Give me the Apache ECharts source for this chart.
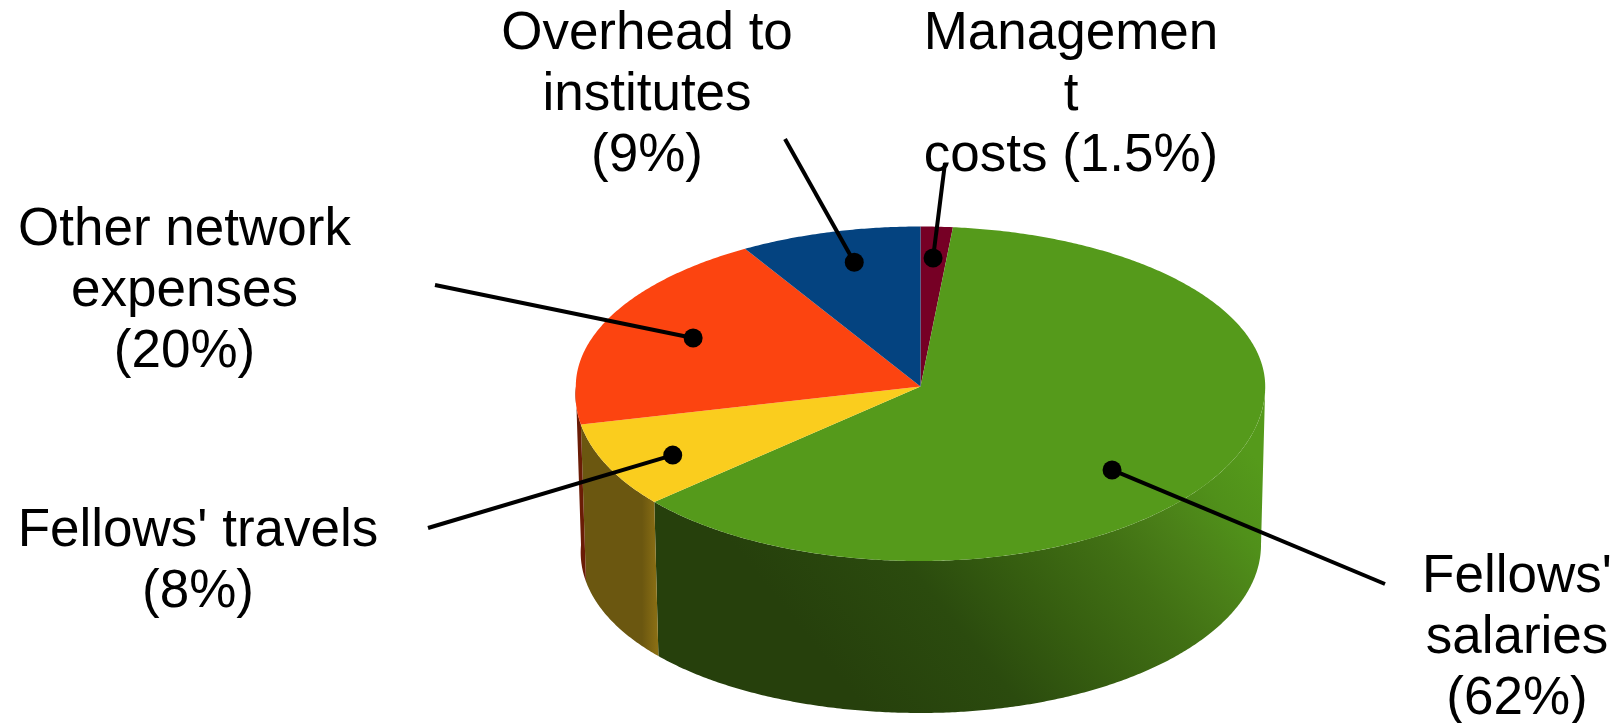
<!DOCTYPE html>
<html>
<head>
<meta charset="utf-8">
<title>Budget pie</title>
<style>
  html, body { margin: 0; padding: 0; background: #fff; }
  #chart { width: 1615px; height: 723px; }
</style>
<script src="https://cdn.jsdelivr.net/npm/echarts@6/dist/echarts.min.js"></script>
</head>
<body>
<div id="chart"></div>
<script>
// data, clockwise from 12 o'clock. labels add up to 100.5, so the last slice stops at the top
const categories = ['Management costs', "Fellows' salaries", "Fellows' travels", 'Other network expenses', 'Overhead to institutes']
const shares = [1.5, 62, 8, 20, 9]
const labelTexts = [
  'Managemen\nt\ncosts (1.5%)',
  "Fellows'\nsalaries\n(62%)",
  "Fellows' travels\n(8%)",
  'Other network\nexpenses\n(20%)',
  'Overhead to\ninstitutes\n(9%)'
]

// styles
const topColors = ['#760025', '#559a1b', '#facd1e', '#fc4410', '#044380']
const sideColors = ['#3b0012', null, null, '#6a1c06', '#022140']

// layout
const topRim = {cx: 920.5, cy: 386.5, rx: 344.7, ryUp: 160, ryDown: 174.5}
const bottomRim = {cx: 921, cy: 545, rx: 340, ryUp: 160, ryDown: 168}
const perspective = 0.0434
const labelCenters = [[1071, 95], [1517, 638], [198, 562], [184.5, 291], [647, 95]]
const leaderEnds = [[945, 163], [1385, 584], [428, 528], [435, 285], [785, 139]]
// dot position on each slice: degrees away from the slice middle, fraction of the radius
const dotPlaces = [[-0.1, 0.804], [13.7, 0.733], [-2.2, 0.806], [1.3, 0.726], [1.4, 0.8]]

const greenSide = new echarts.graphic.LinearGradient(800, 700, 1240, 348, [
  {offset: 0.08, color: '#26400c'},
  {offset: 0.3, color: '#2b4b0e'},
  {offset: 0.45, color: '#365e10'},
  {offset: 0.6, color: '#417014'},
  {offset: 0.7, color: '#4a7f18'},
  {offset: 0.8, color: '#50901a'},
  {offset: 0.9, color: '#559a1b'}
], true)
const yellowSide = new echarts.graphic.LinearGradient(642, 0, 658, 0, [
  {offset: 0, color: '#6b5710'},
  {offset: 1, color: '#8c7014'}
], true)

// slice angles in degrees, 0 at the top
const angles = []
let sum = 0
shares.forEach(function (v) {
  let from = sum / 100 * 360
  sum += v
  angles.push([from, Math.min(sum / 100 * 360, 360)])
})

function rimPoint (rim, deg, frac) {
  let a = deg * Math.PI / 180
  let f = frac === undefined ? 1 : frac
  let c = Math.cos(a)
  let s = Math.sin(a)
  // the front left quarter bulges a bit towards the viewer
  let w = c < 0 && s < 0 ? 1 + perspective * c : 1
  return [rim.cx + rim.rx * f * s / w, rim.cy - (c > 0 ? rim.ryUp : rim.ryDown) * f * c]
}

function arcPoints (rim, from, to) {
  let pts = []
  let n = Math.max(2, Math.ceil((to - from) * 2))
  for (let i = 0; i <= n; i++) {
    pts.push(rimPoint(rim, from + (to - from) * i / n))
  }
  return pts
}

function renderSide (params) {
  let i = params.dataIndex
  let from = Math.max(angles[i][0], 90)
  let to = Math.min(angles[i][1], 270)
  if (to <= from) {
    return null
  }
  let fill = i === 1 ? greenSide : i === 2 ? yellowSide : sideColors[i]
  return {
    type: 'polygon',
    shape: {points: arcPoints(topRim, from, to).concat(arcPoints(bottomRim, from, to).reverse())},
    style: {fill: fill}
  }
}

function renderTop (params) {
  let i = params.dataIndex
  return {
    type: 'polygon',
    shape: {points: [[topRim.cx, topRim.cy]].concat(arcPoints(topRim, angles[i][0], angles[i][1]))},
    style: {fill: topColors[i]}
  }
}

function renderLabel (params) {
  let i = params.dataIndex
  let mid = (angles[i][0] + angles[i][1]) / 2 + dotPlaces[i][0]
  let dot = rimPoint(topRim, mid, dotPlaces[i][1])
  return {
    type: 'group',
    children: [{
      type: 'text',
      style: {
        text: labelTexts[i],
        x: labelCenters[i][0],
        y: labelCenters[i][1],
        align: 'center',
        verticalAlign: 'middle',
        fontFamily: '"Liberation Sans", Arial, sans-serif',
        fontSize: 53,
        lineHeight: 61,
        fill: '#000'
      }
    }, {
      type: 'line',
      shape: {x1: dot[0], y1: dot[1], x2: leaderEnds[i][0], y2: leaderEnds[i][1]},
      style: {stroke: '#000', lineWidth: 4}
    }, {
      type: 'circle',
      shape: {cx: dot[0], cy: dot[1], r: 9.5},
      style: {fill: '#000'}
    }]
  }
}

const seriesData = categories.map(function (name, i) {
  return {name: name, value: shares[i]}
})

const chart = echarts.init(document.getElementById('chart'))
chart.setOption({
  animation: false,
  backgroundColor: '#fff',
  series: [
    {type: 'custom', coordinateSystem: 'none', z: 1, silent: true, data: seriesData, renderItem: renderSide},
    {type: 'custom', coordinateSystem: 'none', z: 2, silent: true, data: seriesData, renderItem: renderTop},
    {type: 'custom', coordinateSystem: 'none', z: 3, silent: true, data: seriesData, renderItem: renderLabel}
  ]
})
</script>
</body>
</html>
